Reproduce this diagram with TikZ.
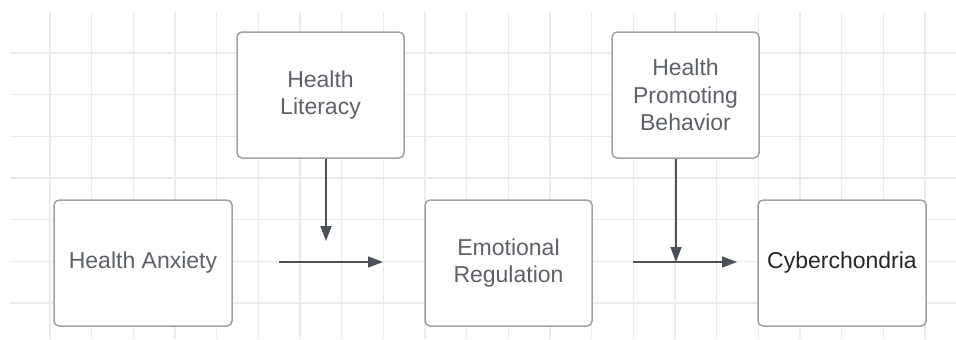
\documentclass[tikz,border=0pt]{standalone}
\usepackage{fontspec}
\setmainfont{Liberation Sans}
\usetikzlibrary{arrows.meta}
\definecolor{gridgray}{HTML}{EBEBEB}
\definecolor{boxgray}{HTML}{9EA2A8}
\definecolor{txtgray}{HTML}{5D6168}
\definecolor{arrowgray}{HTML}{4B5059}

\begin{document}
\begin{tikzpicture}[x=0.5pt,y=-0.5pt,
    box/.style={draw=boxgray,line width=0.75pt,fill=white,rounded corners=2.5pt,
        minimum height=63pt,inner sep=0pt,align=center,text=txtgray,
        font=\fontsize{11.5}{13.8}\selectfont},
    link/.style={draw=arrowgray,line width=0.75pt,-{Triangle[length=7.5pt,width=5.5pt]}}]

        \useasboundingbox (0,0) rectangle (956,339);
        \foreach \i in {0,...,21}
        \draw[gridgray,line width=0.6pt] (50+41.67*\i,12) -- (50+41.67*\i,339);
        \foreach \j in {0,...,6}
        \draw[gridgray,line width=0.6pt] (10,53+41.67*\j) -- (956,53+41.67*\j);

        \node[box,minimum width=83.5pt] (hl) at (320.5,95) {Health\\Literacy};
        \node[box,minimum width=73.5pt] (hpb) at (685.5,95) {Health\\Promoting\\Behavior};
        \node[box,minimum width=89pt] (ha) at (143,263) {Health Anxiety};
        \node[box,minimum width=83.5pt] (er) at (508.5,263) {Emotional\\Regulation};
        \node[box,minimum width=84pt,text=black!85] (cy) at (842,263) {Cyberchondria};

        \coordinate (hlend) at (326,241);
        \coordinate (hpbend) at (676,262);
        \coordinate (m1s) at (279,262);
        \coordinate (m1e) at (383,262);
        \coordinate (m2s) at (633,262);
        \coordinate (m2e) at (737,262);

        \draw[link] (hl.south -| hlend) -- (hlend);
        \draw[link] (m1s) -- (m1e);
        \draw[link] (hpb.south -| hpbend) -- (hpbend);
        \draw[link] (m2s) -- (m2e);
    \end{tikzpicture}
\end{document}
